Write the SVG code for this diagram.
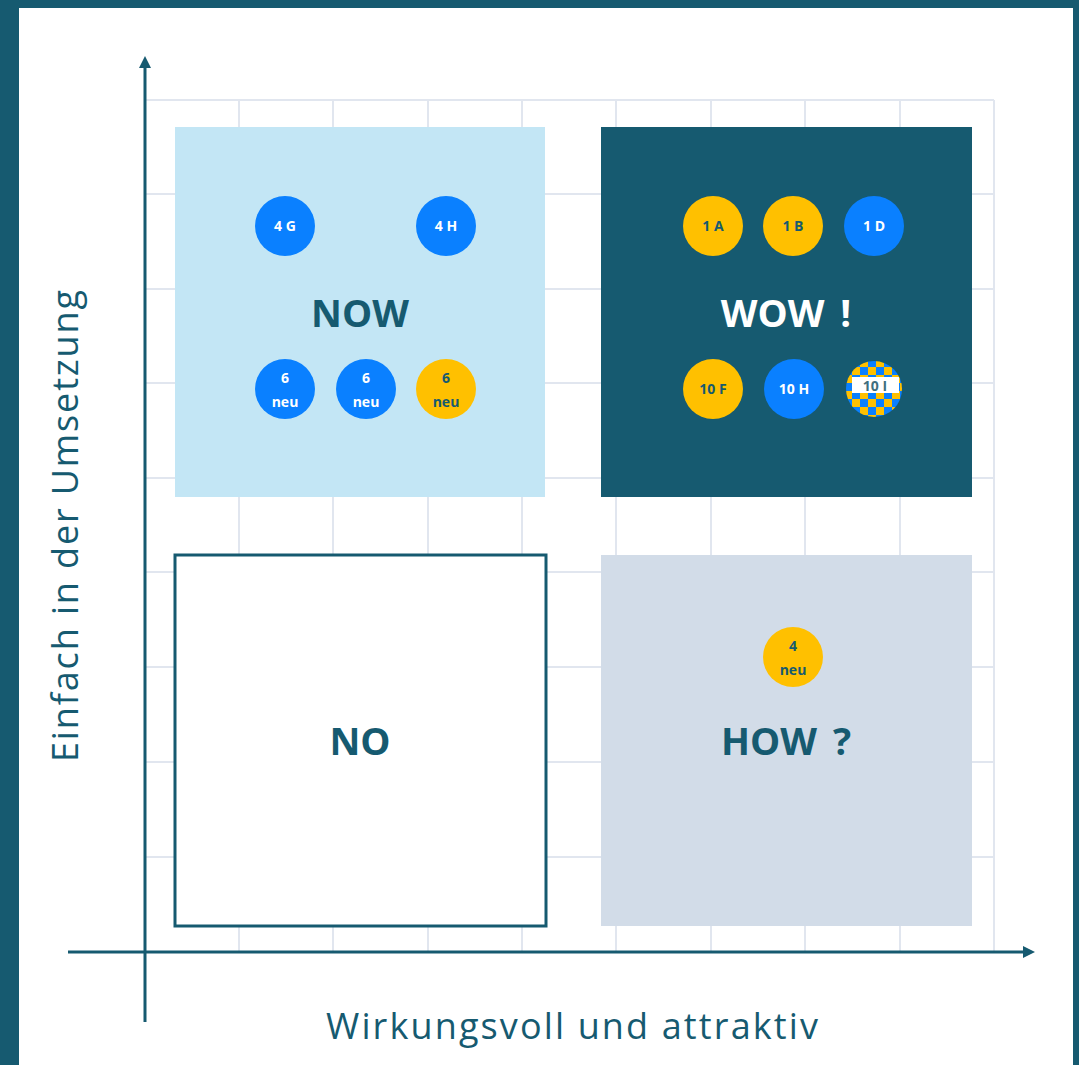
<svg xmlns="http://www.w3.org/2000/svg" width="1079" height="1065" viewBox="0 0 1079 1065">
<style>
.grid{stroke:#E1E6EF;stroke-width:2;fill:none}
.axis{stroke:#165A70;stroke-width:3;fill:none}
.big{font-family:"Open Sans","DejaVu Sans",sans-serif;font-weight:bold;font-size:38px;text-anchor:middle;word-spacing:6px}
.lbl{font-family:"Open Sans","DejaVu Sans",sans-serif;font-weight:bold;font-size:14px;text-anchor:middle}
.axl{font-family:"Open Sans","DejaVu Sans",sans-serif;font-size:36px;fill:#165A70;text-anchor:middle}
.blue{fill:#0A80FF}
.yel{fill:#FFC000}
.tw{fill:#FFFFFF}
.td{fill:#165A70}
</style>
<defs>
<marker id="arr" viewBox="0 0 12 12" refX="2" refY="6" markerWidth="12" markerHeight="12" markerUnits="userSpaceOnUse" orient="auto">
<path d="M0,0 L12,6 L0,12 z" fill="#165A70"/>
</marker>
<pattern id="chk" x="844" y="359" width="16" height="16" patternUnits="userSpaceOnUse">
<rect width="16" height="16" fill="#0A80FF"/>
<rect width="8" height="8" fill="#FFC000"/>
<rect x="8" y="8" width="8" height="8" fill="#FFC000"/>
</pattern>
</defs>
<rect width="1079" height="1065" fill="#165A70"/>
<rect x="19" y="8" width="1054" height="1057" fill="#FFFFFF"/>
<g id="grid">
<path class="grid" d="M239,100V952 M333,100V952 M428,100V952 M522,100V952 M616,100V952 M711,100V952 M805,100V952 M900,100V952 M994,100V952 M145,100H994 M145,194H994 M145,289H994 M145,383H994 M145,478H994 M145,572H994 M145,667H994 M145,762H994 M145,857H994"/>
</g>
<g id="q-now"><rect x="175" y="127" width="370" height="370" fill="#C3E6F5"/><text class="big td" x="360" y="327">NOW</text></g>
<g id="q-wow"><rect x="601" y="127" width="371" height="370" fill="#165A70"/><text class="big tw" x="786" y="327">WOW !</text></g>
<g id="q-no"><rect x="175" y="555" width="371" height="371" fill="#FFFFFF" stroke="#165A70" stroke-width="3"/><text class="big td" x="360" y="755">NO</text></g>
<g id="q-how"><rect x="601" y="555" width="371" height="371" fill="#D2DCE8"/><text class="big td" x="786" y="755">HOW ?</text></g>
<g id="connectors">
<path class="axis" d="M145,1022V66" marker-end="url(#arr)"/>
<path class="axis" d="M68,952H1025" marker-end="url(#arr)"/>
</g>
<text class="axl" transform="translate(78,526) rotate(-90)" textLength="472" lengthAdjust="spacing">Einfach in der Umsetzung</text>
<text class="axl" x="572" y="1039" textLength="492" lengthAdjust="spacing">Wirkungsvoll und attraktiv</text>
<g id="n-4G"><circle class="blue" cx="285" cy="226" r="30"/><text class="lbl tw" x="285" y="231">4 G</text></g>
<g id="n-4H"><circle class="blue" cx="446" cy="226" r="30"/><text class="lbl tw" x="446" y="231">4 H</text></g>
<g id="n-6a"><circle class="blue" cx="285" cy="389" r="30"/><text class="lbl tw" x="285" y="383">6</text><text class="lbl tw" x="285" y="407">neu</text></g>
<g id="n-6b"><circle class="blue" cx="366" cy="389" r="30"/><text class="lbl tw" x="366" y="383">6</text><text class="lbl tw" x="366" y="407">neu</text></g>
<g id="n-6c"><circle class="yel" cx="446" cy="389" r="30"/><text class="lbl td" x="446" y="383">6</text><text class="lbl td" x="446" y="407">neu</text></g>
<g id="n-1A"><circle class="yel" cx="713" cy="226" r="30"/><text class="lbl td" x="713" y="231">1 A</text></g>
<g id="n-1B"><circle class="yel" cx="793" cy="226" r="30"/><text class="lbl td" x="793" y="231">1 B</text></g>
<g id="n-1D"><circle class="blue" cx="874" cy="226" r="30"/><text class="lbl tw" x="874" y="231">1 D</text></g>
<g id="n-10F"><circle class="yel" cx="713" cy="389" r="30"/><text class="lbl td" x="713" y="394">10 F</text></g>
<g id="n-10H"><circle class="blue" cx="794" cy="389" r="30"/><text class="lbl tw" x="794" y="394">10 H</text></g>
<g id="n-10I"><circle cx="874" cy="389" r="28" fill="url(#chk)"/><rect x="852" y="377" width="47" height="16" fill="#FFFFFF"/><text class="lbl" x="875" y="391" fill="#3F6F80" font-weight="normal">10 I</text></g>
<g id="n-4neu"><circle class="yel" cx="793" cy="657" r="30"/><text class="lbl td" x="793" y="651">4</text><text class="lbl td" x="793" y="675">neu</text></g>
</svg>
